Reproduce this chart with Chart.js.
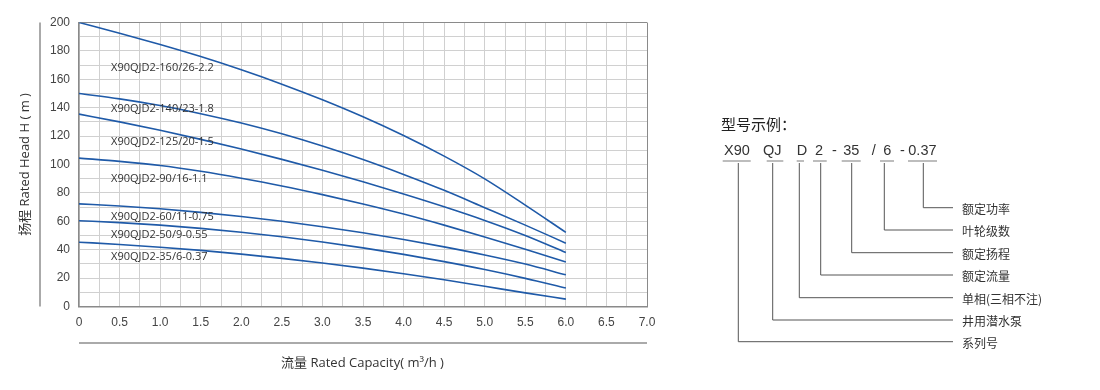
<!DOCTYPE html>
<html>
<head>
<meta charset="utf-8">
<script src="https://cdn.jsdelivr.net/npm/chart.js@4"></script>
<style>
  html, body { margin: 0; padding: 0; background: #ffffff; }
  body { width: 1100px; height: 390px; position: relative; overflow: hidden; }
  #chartBox { position: absolute; left: 0; top: 0; width: 700px; height: 390px; }
  #diagram { position: absolute; left: 0; top: 0; }
</style>
</head>
<body>
<div id="chartBox"><canvas id="c" width="700" height="390"></canvas></div>
<svg id="diagram" width="1100" height="390" xmlns="http://www.w3.org/2000/svg"></svg>
<script>
// ---------------- data ----------------
const flow = [0, 0.5, 1.0, 1.5, 2.0, 2.5, 3.0, 3.5, 4.0, 4.5, 5.0, 5.5, 6.0];
const head160_26 = [200, 192.5, 184.5, 176, 166.7, 156.6, 145.6, 133.6, 120.4, 105.9, 89.9, 71.4, 52.2];
const head140_23 = [150, 146.2, 141.5, 135.8, 129.2, 121.6, 113, 103.5, 93, 81.8, 69.6, 57.3, 44.6];
const head125_20 = [135.5, 130, 124.1, 117.7, 110.9, 103.6, 95.9, 87.8, 79.2, 70.2, 60.6, 50.0, 38];
const head90_16  = [104.5, 102.2, 99.3, 95.2, 90.3, 84.9, 78.8, 72.2, 65.1, 57.3, 49.0, 40.3, 31.3];
const head60_11  = [72.3, 70.8, 68.8, 66.3, 63.4, 60.0, 56.2, 51.9, 47.2, 42.0, 36.3, 29.9, 22.3];
const head50_9   = [60.4, 59.1, 57.3, 55.0, 52.3, 49.1, 45.4, 41.3, 36.7, 31.6, 26.0, 19.8, 13.0];
const head35_6   = [45.3, 43.7, 41.7, 39.5, 36.9, 33.9, 30.65, 27.05, 23.1, 18.85, 14.25, 9.6, 5.2];

const seriesNames = ['X90QJD2-160/26-2.2', 'X90QJD2-140/23-1.8', 'X90QJD2-125/20-1.5',
  'X90QJD2-90/16-1.1', 'X90QJD2-60/11-0.75', 'X90QJD2-50/9-0.55', 'X90QJD2-35/6-0.37'];
const seriesHeads = [head160_26, head140_23, head125_20, head90_16, head60_11, head50_9, head35_6];

const xTickLabels = ['0', '0.5', '1.0', '1.5', '2.0', '2.5', '3.0', '3.5', '4.0', '4.5', '5.0', '5.5', '6.0', '6.5', '7.0'];
const yTickLabels = ['0', '20', '40', '60', '80', '100', '120', '140', '160', '180', '200'];

const xTitle = '流量 Rated Capacity( m³/h )';
const yTitle = '扬程 Rated Head H ( m )';

// label anchor (in data units) for each curve name
const labelAnchorX = 0.395;
const labelAnchorY = [167.9, 139.2, 116.2, 89.9, 63.4, 50.5, 34.8];

// model code diagram
const exampleTitle = '型号示例：';
const codeParts = ['X90', 'QJ', 'D', '2', '-', '35', '/', '6', '-', '0.37'];
const codeMeanings = ['系列号', '井用潜水泵', '单相(三相不注)', '额定流量', '额定扬程', '叶轮级数', '额定功率'];

// ---------------- chart ----------------
const LINE = '#1f5aa8';
const datasets = seriesHeads.map((h, i) => ({
  label: seriesNames[i],
  data: flow.map((x, k) => ({ x: x, y: h[k] })),
  borderColor: LINE,
  borderWidth: 1.6,
  pointRadius: 0,
  fill: false,
  cubicInterpolationMode: 'monotone'
}));

const tickFont = { family: "'Liberation Sans', Arial, sans-serif", size: 12 };

const decorPlugin = {
  id: 'decor',
  afterDatasetsDraw(chart) {
    const ctx = chart.ctx;
    const xs = chart.scales.x, ys = chart.scales.y;
    ctx.save();
    ctx.fillStyle = '#333333';
    ctx.font = "11px 'Open Sans', 'Liberation Sans', sans-serif";
    ctx.textBaseline = 'middle';
    ctx.textAlign = 'left';
    seriesNames.forEach((n, i) => {
      ctx.fillText(n, xs.getPixelForValue(labelAnchorX), ys.getPixelForValue(labelAnchorY[i]));
    });
    ctx.restore();
  },
  afterDraw(chart) {
    const ctx = chart.ctx;
    const a = chart.chartArea;
    ctx.save();
    ctx.strokeStyle = '#8e8e8e';
    ctx.lineWidth = 1.5;
    ctx.beginPath();
    ctx.moveTo(40, a.top);
    ctx.lineTo(40, a.bottom);
    ctx.stroke();
    ctx.beginPath();
    ctx.moveTo(a.left, a.bottom + 36.5);
    ctx.lineTo(a.right, a.bottom + 36.5);
    ctx.stroke();

    ctx.fillStyle = '#333333';
    ctx.font = "13px 'Open Sans', 'Noto Sans CJK SC', sans-serif";
    ctx.textAlign = 'center';
    ctx.textBaseline = 'middle';
    ctx.fillText(xTitle, (a.left + a.right) / 2 - 0.5, a.bottom + 56.5);
    ctx.translate(25, (a.top + a.bottom) / 2);
    ctx.rotate(-Math.PI / 2);
    ctx.fillText(yTitle, 0, 0);
    ctx.restore();
  }
};

new Chart(document.getElementById('c'), {
  type: 'line',
  data: { datasets: datasets },
  options: {
    responsive: false,
    animation: false,
    devicePixelRatio: 1,
    layout: { padding: { top: 22.5, right: 53, bottom: 0, left: 0 } },
    plugins: { legend: { display: false }, tooltip: { enabled: false }, title: { display: false } },
    scales: {
      x: {
        type: 'linear', min: 0, max: 7,
        afterFit(s) { s.height = 83.5; },
        ticks: {
          stepSize: 0.25, autoSkip: false, maxRotation: 0, padding: 9,
          font: tickFont, color: '#444444',
          callback(v) {
            const k = Math.round(v * 2);
            return Math.abs(v * 2 - k) < 1e-6 ? xTickLabels[k] : '';
          }
        },
        grid: {
          drawTicks: false, lineWidth: 1,
          color(c) { return (c.tick && Math.abs(c.tick.value - 7) < 1e-6) ? '#8a8a8a' : '#d0d0d0'; }
        },
        border: { color: '#8a8a8a', width: 1.5 }
      },
      y: {
        type: 'linear', min: 0, max: 200,
        afterFit(s) { s.width = 79; },
        ticks: {
          stepSize: 10, autoSkip: false, padding: 9,
          font: tickFont, color: '#444444',
          callback(v) {
            return (Math.round(v) % 20 === 0) ? yTickLabels[Math.round(v) / 20] : '';
          }
        },
        grid: {
          drawTicks: false, lineWidth: 1,
          color(c) { return (c.tick && Math.abs(c.tick.value - 200) < 1e-6) ? '#8a8a8a' : '#d0d0d0'; }
        },
        border: { color: '#8a8a8a', width: 1.5 }
      }
    }
  },
  plugins: [decorPlugin]
});

// ---------------- model code diagram (SVG) ----------------
const svg = document.getElementById('diagram');
const NS = 'http://www.w3.org/2000/svg';
function el(tag, attrs, text) {
  const e = document.createElementNS(NS, tag);
  for (const k in attrs) e.setAttribute(k, attrs[k]);
  if (text !== undefined) e.textContent = text;
  svg.appendChild(e);
  return e;
}
el('text', { x: 721, y: 123.5, 'dominant-baseline': 'central', 'font-family': "'Noto Sans CJK SC', sans-serif",
  'font-size': 15, fill: '#222' }, exampleTitle);

const partX = [724, 763, 796.7, 815, 832, 843.3, 871.7, 883.3, 900, 908.3];
codeParts.forEach((p, i) => {
  el('text', { x: partX[i], y: 150, 'dominant-baseline': 'central', 'font-family': "'Liberation Sans', Arial, sans-serif",
    'font-size': 14.5, fill: '#333' }, p);
});
// underlines: [x1, x2] for X90, QJ, D, 2, 35, 6, 0.37
const under = [[722.7, 750.7], [766.7, 783.3], [796.7, 804], [813, 826.7], [841.7, 860.7], [880, 894], [908, 937]];
under.forEach(u => el('line', { x1: u[0], y1: 161, x2: u[1], y2: 161, stroke: '#999', 'stroke-width': 1.3 }));
// connectors: down from part, then right to meaning
const conX = [738.3, 772.7, 799.3, 820.7, 851.7, 884.3, 923.3];
const conY = [341.7, 320, 297.7, 275, 252.7, 230, 207.7];
conX.forEach((x, i) => {
  el('polyline', { points: `${x},163 ${x},${conY[i]} 953,${conY[i]}`, fill: 'none', stroke: '#555', 'stroke-width': 1 });
  el('text', { x: 962, y: conY[i] + 0.5, 'dominant-baseline': 'central', 'font-family': "'Noto Sans CJK SC', sans-serif",
    'font-size': 12, fill: '#333' }, codeMeanings[i]);
});
</script>
</body>
</html>
